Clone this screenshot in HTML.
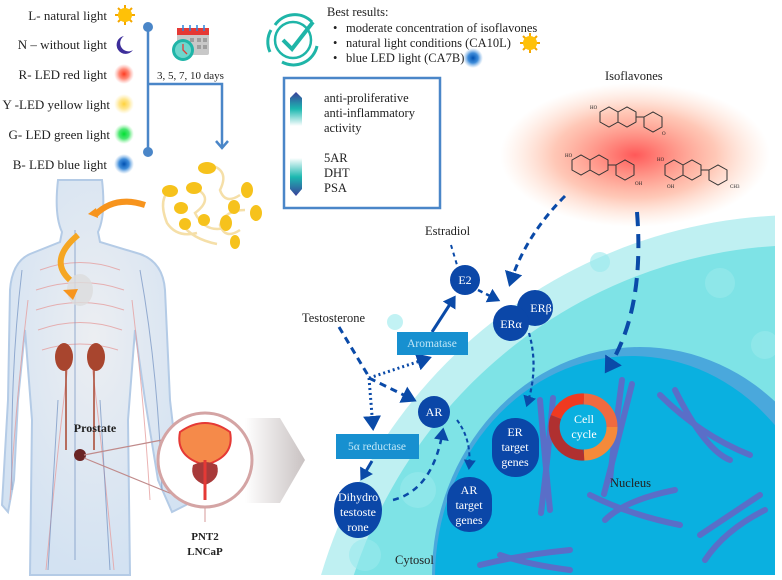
<!DOCTYPE html>
<html><head><meta charset="utf-8"><style>
html,body{margin:0;padding:0;background:#fff;width:782px;height:580px;overflow:hidden}
svg{display:block}
text{font-family:"Liberation Serif",serif;fill:#222}
</style></head><body>
<svg width="782" height="580" viewBox="0 0 782 580" xmlns="http://www.w3.org/2000/svg">
<defs>
<radialGradient id="gr" cx="50%" cy="50%" r="50%"><stop offset="0" stop-color="#ff3b3b"/><stop offset=".6" stop-color="#ff7d55" stop-opacity=".5"/><stop offset="1" stop-color="#ffb48a" stop-opacity="0"/></radialGradient>
<radialGradient id="gRed"><stop offset="0" stop-color="#ff3a20"/><stop offset=".5" stop-color="#ff5a40" stop-opacity=".7"/><stop offset="1" stop-color="#ff8a80" stop-opacity="0"/></radialGradient>
<radialGradient id="gYel"><stop offset="0" stop-color="#ffd23a"/><stop offset=".5" stop-color="#ffdb60" stop-opacity=".7"/><stop offset="1" stop-color="#ffe890" stop-opacity="0"/></radialGradient>
<radialGradient id="gGrn"><stop offset="0" stop-color="#00e030"/><stop offset=".5" stop-color="#20e050" stop-opacity=".8"/><stop offset="1" stop-color="#80f090" stop-opacity="0"/></radialGradient>
<radialGradient id="gBlu"><stop offset="0" stop-color="#0050b0"/><stop offset=".5" stop-color="#1070d0" stop-opacity=".8"/><stop offset="1" stop-color="#60a0e0" stop-opacity="0"/></radialGradient>
<linearGradient id="ga1" x1="0" y1="0" x2="0" y2="1"><stop offset="0" stop-color="#3a3f9a"/><stop offset=".5" stop-color="#1cb8b0"/><stop offset="1" stop-color="#fff"/></linearGradient>
<linearGradient id="ga2" x1="0" y1="0" x2="0" y2="1"><stop offset="0" stop-color="#fff"/><stop offset=".5" stop-color="#1cb8b0"/><stop offset="1" stop-color="#3a3f9a"/></linearGradient>
<linearGradient id="gpent" x1="0" y1="0" x2="1" y2="0"><stop offset="0" stop-color="#fff"/><stop offset="1" stop-color="#c9c2c2"/></linearGradient>
<radialGradient id="gbody" cx="50%" cy="40%" r="60%"><stop offset="0" stop-color="#eceef2"/><stop offset="1" stop-color="#d3e2f2"/></radialGradient>
<marker id="ah" markerWidth="6" markerHeight="6" refX="4" refY="3" orient="auto" markerUnits="strokeWidth"><path d="M0,0 L5,3 L0,6 Z" fill="#0a4aa8"/></marker>
<marker id="ahb" markerWidth="5" markerHeight="5" refX="3" refY="2.5" orient="auto" markerUnits="strokeWidth"><path d="M0,0 L4,2.5 L0,5 Z" fill="#0a4aa8"/></marker>
<clipPath id="cc"><rect x="0" y="0" width="775" height="575"/></clipPath>
</defs>

<!-- legend -->
<g font-size="13">
<text x="107" y="20" text-anchor="end">L- natural light</text>
<text x="107" y="49" text-anchor="end">N – without light</text>
<text x="107" y="79" text-anchor="end">R- LED red light</text>
<text x="110" y="109" text-anchor="end">Y -LED yellow light</text>
<text x="110" y="139" text-anchor="end">G- LED green light</text>
<text x="107" y="169" text-anchor="end">B- LED blue light</text>
</g>
<g transform="translate(125,15)"><g stroke="#f5a800" stroke-width="2"><line x1="-10" y1="0" x2="10" y2="0"/><line x1="0" y1="-10" x2="0" y2="10"/><line x1="-7" y1="-7" x2="7" y2="7"/><line x1="-7" y1="7" x2="7" y2="-7"/></g><circle r="7" fill="#ffc107"/></g>
<path d="M124,36 a9,9 0 1,0 9,14 a7,7 0 1,1 -9,-14z" fill="#3d2e9a"/>
<circle cx="124" cy="74" r="10" fill="url(#gRed)"/>
<circle cx="124" cy="104" r="10" fill="url(#gYel)"/>
<circle cx="124" cy="134" r="10" fill="url(#gGrn)"/>
<circle cx="124" cy="164" r="10" fill="url(#gBlu)"/>

<!-- timeline -->
<g stroke="#4a86c8" stroke-width="2.5" fill="none">
<line x1="148" y1="27" x2="148" y2="152"/>
<path d="M148,84 H222 V147"/>
<path d="M216,141 L222,148 L228,141"/>
</g>
<circle cx="148" cy="27" r="5" fill="#4a86c8"/><circle cx="148" cy="152" r="5" fill="#4a86c8"/>
<rect x="177" y="28" width="32" height="27" fill="#c8c8c8" rx="2"/>
<rect x="177" y="28" width="32" height="7" fill="#e53935"/>
<g fill="#9e9e9e"><rect x="190" y="38" width="4" height="4"/><rect x="197" y="38" width="4" height="4"/><rect x="203" y="38" width="4" height="4"/><rect x="197" y="45" width="4" height="4"/><rect x="203" y="45" width="4" height="4"/></g>
<g stroke="#2e86de" stroke-width="1.5"><line x1="183" y1="25" x2="183" y2="31"/><line x1="190" y1="25" x2="190" y2="31"/><line x1="197" y1="25" x2="197" y2="31"/><line x1="204" y1="25" x2="204" y2="31"/></g>
<circle cx="183" cy="50" r="11" fill="#1fb5a8"/><circle cx="183" cy="50" r="8" fill="#6fd6cc"/>
<path d="M183,44 V50 L187,54" stroke="#e53935" stroke-width="1.3" fill="none"/>
<text x="157" y="79" font-size="11">3, 5, 7, 10 days</text>

<!-- check icon -->
<g stroke="#1fb5a8" stroke-width="3" fill="none">
<path d="M275,25 A24,24 0 0,1 312,22"/><path d="M317,46 A24,24 0 0,1 282,62"/>
<path d="M270,52 A24,24 0 0,1 271,30"/>
<circle cx="293" cy="40" r="18" stroke-width="2.5"/>
<path d="M283,40 L292,49 L313,22" stroke-width="4"/>
</g>
<text x="327" y="16" font-size="12.5">Best results:</text>
<g font-size="12.5"><text x="333" y="32">•</text><text x="346" y="32">moderate concentration of isoflavones</text>
<text x="333" y="47">•</text><text x="346" y="47">natural light conditions (CA10L)</text>
<text x="333" y="62">•</text><text x="346" y="62">blue LED light (CA7B)</text></g>
<g transform="translate(530,43)"><g stroke="#f5a800" stroke-width="2"><line x1="-10" y1="0" x2="10" y2="0"/><line x1="0" y1="-10" x2="0" y2="10"/><line x1="-7" y1="-7" x2="7" y2="7"/><line x1="-7" y1="7" x2="7" y2="-7"/></g><circle r="7" fill="#ffc107"/></g>
<circle cx="473" cy="58" r="10" fill="url(#gBlu)"/>

<!-- result box -->
<rect x="284" y="78" width="156" height="130" fill="#fff" stroke="#4a86c8" stroke-width="2.5"/>
<path d="M296,92 L302,98 V126 H290 V98 Z" fill="url(#ga1)"/>
<path d="M290,158 H302 V189 L296,196 L290,189 Z" fill="url(#ga2)"/>
<g font-size="12.5"><text x="324" y="102">anti-proliferative</text><text x="324" y="117">anti-inflammatory</text><text x="324" y="132">activity</text>
<text x="324" y="162">5AR</text><text x="324" y="177">DHT</text><text x="324" y="192">PSA</text></g>

<!-- isoflavones -->
<ellipse cx="635" cy="155" rx="135" ry="72" fill="url(#gr)" opacity=".85"/>
<text x="605" y="80" font-size="12.5">Isoflavones</text>
<g stroke="#333" stroke-width="1" fill="none">
<path d="M600,112 l9,-5 l9,5 v10 l-9,5 l-9,-5z M618,112 l9,-5 l9,5 v10 l-9,5 l-9,-5z M636,117 l8,0 M644,117 l9,-5 l9,5 v10 l-9,5 l-9,-5z"/>
<path d="M572,160 l9,-5 l9,5 v10 l-9,5 l-9,-5z M590,160 l9,-5 l9,5 v10 l-9,5 l-9,-5z M608,165 l8,0 M616,165 l9,-5 l9,5 v10 l-9,5 l-9,-5z"/>
<path d="M665,165 l9,-5 l9,5 v10 l-9,5 l-9,-5z M683,165 l9,-5 l9,5 v10 l-9,5 l-9,-5z M701,170 l8,0 M709,170 l9,-5 l9,5 v10 l-9,5 l-9,-5z"/>
</g>
<g font-size="5" font-family="Liberation Sans"><text x="590" y="109">HO</text><text x="662" y="135">O</text><text x="565" y="157">HO</text><text x="635" y="185">OH</text><text x="657" y="161">HO</text><text x="730" y="188">CH3</text><text x="667" y="188">OH</text></g>

<!-- soy sprouts -->
<g stroke="#f5dfa8" stroke-width="2.5" fill="none">
<path d="M210,165 q20,5 10,25 q5,15 20,5"/><path d="M172,188 q-15,10 -5,35 q10,15 30,10"/><path d="M195,188 q20,10 0,25 q10,20 30,15"/><path d="M245,210 q-20,0 -25,15 q5,15 20,5"/><path d="M182,224 q10,15 35,20"/>
</g>
<g fill="#f6c21c">
<ellipse cx="207" cy="168" rx="9" ry="6"/><ellipse cx="170" cy="191" rx="8" ry="6"/><ellipse cx="194" cy="188" rx="8" ry="6"/><ellipse cx="247" cy="190" rx="6" ry="8"/><ellipse cx="181" cy="208" rx="7" ry="6"/><ellipse cx="204" cy="220" rx="6" ry="6"/><ellipse cx="234" cy="207" rx="6" ry="7"/><ellipse cx="256" cy="213" rx="6" ry="8"/><ellipse cx="185" cy="224" rx="6" ry="6"/><ellipse cx="226" cy="223" rx="6" ry="8"/><ellipse cx="235" cy="242" rx="5" ry="7"/>
</g>

<!-- body -->
<path d="M58,180 H102 Q106,215 98,232 L100,242 L140,254 Q163,262 165,290 L170,400 L178,470 L186,505 L172,512 L158,480 L145,400 L135,330 L128,420 L130,575 H30 L32,420 L25,330 L18,400 L14,480 L8,512 L2,505 L4,470 L8,400 L10,290 Q12,262 30,254 L60,242 L62,232 Q54,215 58,180Z" fill="url(#gbody)" stroke="#b4cbe6" stroke-width="2"/>
<g stroke="#e6a0a0" stroke-width="1" fill="none" opacity=".8">
<path d="M40,270 q40,-15 80,0 M36,290 q45,-15 88,0 M36,310 q45,-15 88,0 M38,330 q42,-15 84,0 M42,350 q38,-12 76,0"/>
<path d="M68,365 q-10,80 -22,205 M92,365 q10,80 22,205 M28,300 q-12,100 -18,200 M132,300 q12,100 18,200"/>
</g>
<g stroke="#7090c0" stroke-width="1" fill="none" opacity=".7"><path d="M75,230 v330 M22,270 q-12,100 -10,220 M140,270 q18,100 22,220 M58,400 q-5,80 -10,170 M100,400 q5,80 10,170"/></g>
<ellipse cx="80" cy="290" rx="13" ry="16" fill="#dcdcdc" opacity=".8"/>
<path d="M70,280 q-22,-20 8,-45" stroke="#f5a623" stroke-width="6" fill="none"/>
<path d="M145,205 q-30,-10 -50,10" stroke="#f7941d" stroke-width="6" fill="none"/>
<path d="M88,214 l8,-6 l2,10z" fill="#f7941d"/>
<path d="M63,290 l10,10 l5,-11z" fill="#f7941d"/>
<ellipse cx="64" cy="357" rx="9" ry="14" fill="#a8452e"/><ellipse cx="96" cy="357" rx="9" ry="14" fill="#a8452e"/>
<path d="M66,370 v80 M94,370 v80" stroke="#a8452e" stroke-width="1.5"/>
<circle cx="80" cy="455" r="6" fill="#6a2424"/>
<text x="95" y="432" font-size="12" font-weight="bold" text-anchor="middle">Prostate</text>
<g stroke="#c08a8a" stroke-width="1.2"><line x1="84" y1="455" x2="162" y2="440"/><line x1="84" y1="458" x2="172" y2="494"/></g>
<path d="M245,418 H280 L305,460 L280,503 H245 Z" fill="url(#gpent)"/>
<circle cx="205" cy="460" r="47" fill="#fff" stroke="#d4a4a4" stroke-width="3"/>
<path d="M180,432 q25,-18 50,0 q5,25 -25,33 q-30,-8 -25,-33z" fill="#f58a4a" stroke="#e53935" stroke-width="2"/>
<path d="M193,465 q12,-6 24,0 q4,14 -12,20 q-16,-6 -12,-20z" fill="#a83a3a"/>
<line x1="205" y1="460" x2="205" y2="500" stroke="#e53935" stroke-width="3"/>
<line x1="205" y1="508" x2="205" y2="522" stroke="#d49a9a" stroke-width="1"/>
<text x="205" y="540" font-size="11" font-weight="bold" text-anchor="middle">PNT2</text>
<text x="205" y="555" font-size="11" font-weight="bold" text-anchor="middle">LNCaP</text>

<!-- cell -->
<g clip-path="url(#cc)">
<ellipse cx="800" cy="720" rx="500" ry="505" fill="#bff0f2"/>
<ellipse cx="805" cy="725" rx="475" ry="480" fill="#7ee3e6"/>
<g fill="#9aeaec" opacity=".6"><circle cx="720" cy="283" r="15"/><circle cx="600" cy="262" r="10"/><circle cx="765" cy="345" r="14"/><circle cx="418" cy="490" r="18"/><circle cx="395" cy="322" r="8"/><circle cx="365" cy="555" r="16"/></g>
<ellipse cx="640" cy="575" rx="208" ry="228" fill="#4aa8dc"/>
<ellipse cx="632" cy="578" rx="197" ry="222" fill="#0ab0e0"/>
<g stroke="#5a6ec8" stroke-width="6" stroke-linecap="round" fill="none">
<path d="M540,400 q5,60 10,110"/><path d="M553,398 q-5,60 -12,115"/>
<path d="M622,380 q-8,60 -12,100"/><path d="M632,384 q-15,60 -28,110"/>
<path d="M660,395 q40,40 90,60"/><path d="M675,390 q30,60 55,70"/>
<path d="M590,495 q40,20 90,30"/><path d="M605,520 q20,-20 70,-30"/>
<path d="M480,565 q40,-10 90,-15"/><path d="M500,555 q30,10 70,15"/>
<path d="M700,535 q30,-20 60,-40"/><path d="M705,560 q20,-30 60,-50"/>
</g>
</g>

<!-- arrows -->
<g stroke="#0a4aa8" fill="none" stroke-width="3">
<path d="M565,196 q-40,40 -55,88" stroke-dasharray="7,5" marker-end="url(#ah)"/>
<path d="M637,212 q8,100 -30,158" stroke-dasharray="14,8" stroke-width="4" marker-end="url(#ahb)"/>
<path d="M451,245 l6,20" stroke-dasharray="4,4" stroke-width="2"/>
<path d="M339,327 l30,50" stroke-dasharray="7,5"/>
<path d="M369,378 l45,22" stroke-dasharray="7,5" marker-end="url(#ah)"/>
<path d="M369,378 l60,-20" stroke-dasharray="2,3" marker-end="url(#ah)"/>
<path d="M369,378 l4,50" stroke-dasharray="2,3" marker-end="url(#ah)"/>
<path d="M432,332 l22,-34" marker-end="url(#ahb)"/>
<path d="M478,290 l20,10" stroke-dasharray="5,4" stroke-width="2.5" marker-end="url(#ah)"/>
<path d="M529,333 q10,35 -2,72" stroke-dasharray="4,3" stroke-width="2.2" marker-end="url(#ah)"/>
<path d="M457,420 q15,20 12,48" stroke-dasharray="4,3" stroke-width="2" marker-end="url(#ah)"/>
<path d="M372,461 l-10,17" marker-end="url(#ahb)"/>
<path d="M393,500 q40,-10 50,-70" stroke-dasharray="6,5" stroke-width="2.5" marker-end="url(#ah)"/>
</g>

<!-- nodes -->
<g fill="#0b47a8">
<circle cx="465" cy="280" r="15"/>
<circle cx="535" cy="308" r="18"/><circle cx="511" cy="323" r="18"/>
<circle cx="434" cy="412" r="16"/>
<ellipse cx="358" cy="510" rx="24" ry="28"/>
<rect x="447" y="477" width="45" height="55" rx="22"/>
<rect x="492" y="418" width="47" height="59" rx="23"/>
</g>
<rect x="397" y="332" width="71" height="23" fill="#1790d0"/>
<rect x="336" y="434" width="83" height="25" fill="#1790d0"/>
<g font-size="12" text-anchor="middle">
<text x="465" y="284" style="fill:#fff">E2</text>
<text x="541" y="312" style="fill:#fff">ERβ</text><text x="511" y="328" style="fill:#fff">ERα</text>
<text x="434" y="416" style="fill:#fff">AR</text>
<text x="358" y="501" style="fill:#fff">Dihydro</text><text x="358" y="516" style="fill:#fff">testoste</text><text x="358" y="531" style="fill:#fff">rone</text>
<text x="469" y="494" style="fill:#fff">AR</text><text x="469" y="509" style="fill:#fff">target</text><text x="469" y="524" style="fill:#fff">genes</text>
<text x="515" y="436" style="fill:#fff">ER</text><text x="515" y="451" style="fill:#fff">target</text><text x="515" y="466" style="fill:#fff">genes</text>
<text x="432" y="347" style="fill:#bfe6f7" font-size="11.5">Aromatase</text>
<text x="377" y="450" style="fill:#bfe6f7" font-size="11.5">5α reductase</text>
</g>
<g fill="none" stroke-width="11">
<path d="M556,417 A28,28 0 0,1 584,399" stroke="#f03a20"/>
<path d="M584,399 A28,28 0 0,1 612,427" stroke="#f06a40"/>
<path d="M612,427 A28,28 0 0,1 584,455" stroke="#f58a3a"/>
<path d="M584,455 A28,28 0 0,1 556,417" stroke="#b03030"/>
</g>
<text x="584" y="423" font-size="12" text-anchor="middle" style="fill:#fff">Cell</text>
<text x="584" y="438" font-size="12" text-anchor="middle" style="fill:#fff">cycle</text>

<g font-size="12.5">
<text x="425" y="235">Estradiol</text>
<text x="302" y="322">Testosterone</text>
<text x="610" y="487">Nucleus</text>
<text x="395" y="564">Cytosol</text>
</g>
</svg>
</body></html>
